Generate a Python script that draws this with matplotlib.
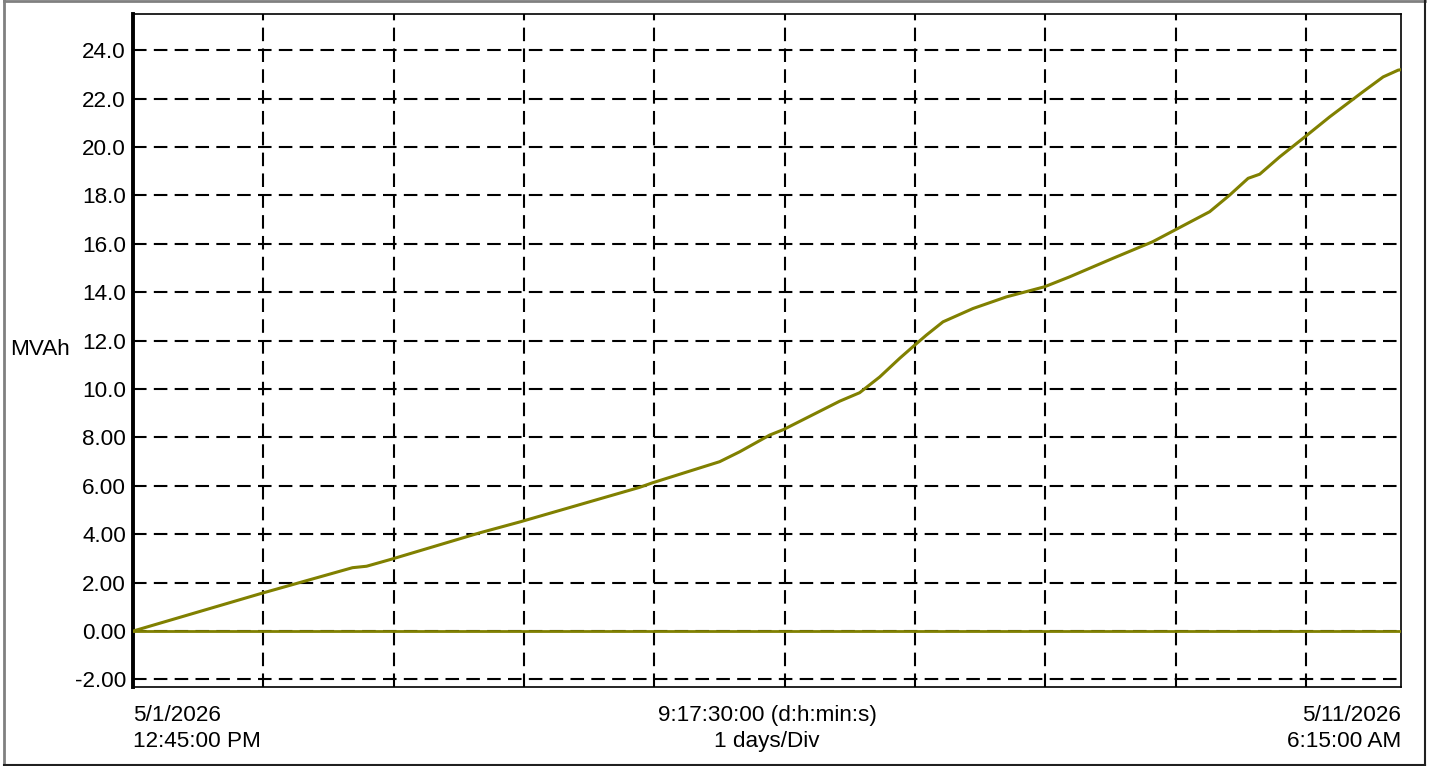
"""
Energy (MVAh) trend over ~10 days, trend-viewer style.
"""

import matplotlib
matplotlib.use("Agg")
import matplotlib.pyplot as plt
from matplotlib.lines import Line2D

plt.rcParams["font.family"] = ["Liberation Sans", "DejaVu Sans"]

# elapsed days since 5/1/2026 12:45:00 PM, and cumulative MVAh
days = [0.0, 0.986, 1.684, 1.792, 1.976, 2.66, 2.974, 3.887, 3.987, 4.501,
        4.655, 4.885, 4.992, 5.422, 5.575, 5.729, 5.882, 5.990, 6.087, 6.215,
        6.445, 6.701, 6.995, 7.187, 7.517, 7.824, 7.993, 8.261, 8.415, 8.556,
        8.645, 8.799, 8.998, 9.182, 9.438, 9.592, 9.707, 9.729]
mvah = [0.0, 1.56, 2.62, 2.68, 2.96, 4.06, 4.52, 5.94, 6.13, 7.0,
        7.41, 8.1, 8.33, 9.5, 9.85, 10.5, 11.27, 11.78, 12.23, 12.78,
        13.33, 13.81, 14.23, 14.64, 15.4, 16.09, 16.57, 17.33, 18.02, 18.71,
        18.88, 19.6, 20.45, 21.25, 22.29, 22.9, 23.18, 23.2]
span_days = 9.729   # 9:17:30:00
baseline = [0.0, 0.0]

y_ticks = [-2, 0, 2, 4, 6, 8, 10, 12, 14, 16, 18, 20, 22, 24]
y_labels = ["-2.00", "0.00", "2.00", "4.00", "6.00", "8.00", "10.0", "12.0",
            "14.0", "16.0", "18.0", "20.0", "22.0", "24.0"]
start_label = "5/1/2026\n12:45:00 PM"
end_label = "5/11/2026\n6:15:00 AM"
mid_label = "9:17:30:00 (d:h:min:s)\n1 days/Div"

W, H = 1431, 766
FS = 16.2
fig = plt.figure(figsize=(W / 100, H / 100), dpi=100)
ax = fig.add_axes([133 / W, 1 - 687 / H, (1401 - 133) / W, (687 - 14) / H])

olive = "#808000"
ax.plot([0, span_days], baseline, color=olive, lw=2, zorder=3)
ax.plot(days, mvah, color=olive, lw=2.2, zorder=4)

ax.set_xlim(0, span_days)
ax.set_ylim(-2.31, 25.5)

# dashed grid: one division per day, 2 MVAh per row
dash = (0, (6.5, 3.5))
for d in range(1, 10):
    ax.axvline(d, color="black", lw=1.5, ls=dash, zorder=2)
for yv in y_ticks:
    ax.axhline(yv, color="black", lw=1.5, ls=dash, zorder=2)

ax.set_yticks(y_ticks)
ax.set_yticklabels(y_labels, fontsize=FS)
ax.tick_params(axis="y", length=0, pad=5)
ax.set_xticks([])

for side in ["top", "right", "bottom"]:
    ax.spines[side].set_linewidth(1.2)
ax.spines["left"].set_linewidth(2.8)

fig.text(10 / W, 1 - 350 / H, "MVAh", fontsize=FS, ha="left", va="center")
fig.text(133 / W, 1 - 705 / H, start_label, fontsize=FS, ha="left", va="top",
         linespacing=1.3)
fig.text(1401 / W, 1 - 705 / H, end_label, fontsize=FS, ha="right", va="top",
         linespacing=1.3)
fig.text(767 / W, 1 - 705 / H, mid_label, fontsize=FS, ha="center", va="top",
         linespacing=1.3)

# sunken frame around the whole panel
fig.add_artist(Line2D([4 / W, 4 / W], [1 / H, 1.0], color="#808080", lw=2))
fig.add_artist(Line2D([4 / W, 1425 / W], [1 - 0.5 / H, 1 - 0.5 / H], color="#808080", lw=2))
fig.add_artist(Line2D([1425 / W, 1425 / W], [1 / H, 1.0], color="#202020", lw=1.5))
fig.add_artist(Line2D([4 / W, 1425 / W], [1 / H, 1 / H], color="#202020", lw=1.5))

fig.savefig("out.png", dpi=100)
